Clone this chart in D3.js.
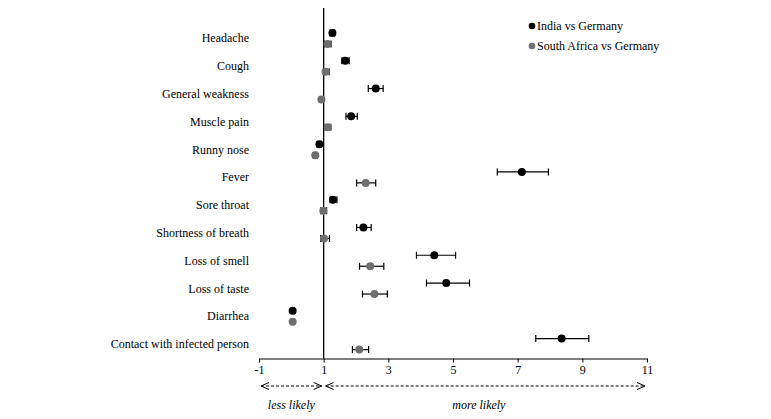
<!DOCTYPE html>
<html><head><meta charset="utf-8">
<script src="https://cdn.jsdelivr.net/npm/d3@7"></script>
<style>body{margin:0;background:#fff}svg{display:block}text{font-family:"Liberation Serif","Times New Roman",serif}</style>
</head><body><svg id="c" width="771" height="419"></svg>
<script>
const categories = ["Headache","Cough","General weakness","Muscle pain","Runny nose","Fever","Sore throat","Shortness of breath","Loss of smell","Loss of taste","Diarrhea","Contact with infected person"];
const seriesNames = ["India vs Germany","South Africa vs Germany"];
const indiaOR  = [1.27,1.67,2.61,1.85,0.87,7.13,1.29,2.23,4.42,4.79,0.04,8.36];
const indiaLo  = [1.20,1.56,2.38,1.69,0.80,6.37,1.20,2.02,3.87,4.18,0.00,7.56];
const indiaHi  = [1.34,1.79,2.84,2.04,0.93,7.95,1.41,2.47,5.08,5.51,0.08,9.20];
const saOR     = [1.12,1.06,0.93,1.13,0.74,2.30,0.99,1.01,2.44,2.57,0.04,2.10];
const saLo     = [1.02,0.99,0.88,1.05,0.68,2.02,0.91,0.91,2.11,2.20,0.00,1.89];
const saHi     = [1.23,1.17,0.99,1.22,0.80,2.61,1.09,1.18,2.86,2.97,0.08,2.39];
const xTicks   = [-1,1,3,5,7,9,11];
const colors   = ["#000000","#6e6e6e"];

const svg = d3.select("#c");
const x = d3.scaleLinear().domain([-1,11]).range([259,647]);
const y = d3.scaleBand().domain(categories).range([24.6,358]).padding(0);
const off = d3.scalePoint().domain(seriesNames).range([-5.5,5.5]);

const seriesData = [
  {name:seriesNames[0], or:indiaOR, lo:indiaLo, hi:indiaHi, color:colors[0]},
  {name:seriesNames[1], or:saOR, lo:saLo, hi:saHi, color:colors[1]}
];

// x axis
const ax = svg.append("g").attr("transform","translate(0,358.5)")
  .call(d3.axisBottom(x).tickValues(xTicks).tickSize(4).tickSizeOuter(0).tickPadding(3).tickFormat(d=>String(d)));
ax.select(".domain").attr("stroke","#000").attr("stroke-width",1.2);
ax.selectAll(".tick line").attr("stroke","#000");
ax.selectAll("text").attr("font-size",12).attr("fill","#000").attr("font-family","Liberation Serif, serif");

// reference line at 1
svg.append("line").attr("x1",x(1)).attr("x2",x(1)).attr("y1",8).attr("y2",358.5)
  .attr("stroke","#000").attr("stroke-width",1.3);

// category labels
svg.append("g").selectAll("text").data(categories).join("text")
  .attr("x",249).attr("y",d=>y(d)+y.bandwidth()/2+4)
  .attr("text-anchor","end").attr("font-size",12).attr("fill","#000").text(d=>d);

// series
seriesData.forEach(s=>{
  const g = svg.append("g");
  const rows = categories.map((c,i)=>({c, v:s.or[i], lo:s.lo[i], hi:s.hi[i], yy:y(c)+y.bandwidth()/2+off(s.name)}));
  g.selectAll("line.h").data(rows).join("line").attr("class","h")
    .attr("x1",d=>x(d.lo)).attr("x2",d=>x(d.hi)).attr("y1",d=>d.yy).attr("y2",d=>d.yy)
    .attr("stroke","#000").attr("stroke-width",1.2);
  g.selectAll("line.l").data(rows).join("line").attr("class","l")
    .attr("x1",d=>x(d.lo)).attr("x2",d=>x(d.lo)).attr("y1",d=>d.yy-3.5).attr("y2",d=>d.yy+3.5)
    .attr("stroke","#000").attr("stroke-width",1.2);
  g.selectAll("line.r").data(rows).join("line").attr("class","r")
    .attr("x1",d=>x(d.hi)).attr("x2",d=>x(d.hi)).attr("y1",d=>d.yy-3.5).attr("y2",d=>d.yy+3.5)
    .attr("stroke","#000").attr("stroke-width",1.2);
  g.selectAll("circle").data(rows).join("circle")
    .attr("cx",d=>x(d.v)).attr("cy",d=>d.yy).attr("r",4).attr("fill",s.color);
});

// legend
const lg = svg.append("g").selectAll("g").data(seriesData).join("g")
  .attr("transform",(d,i)=>`translate(532,${26+i*20})`);
lg.append("circle").attr("r",3.3).attr("fill",d=>d.color);
lg.append("text").attr("x",5).attr("y",4).attr("font-size",12).attr("fill","#000").text(d=>d.name);

// direction arrows
function arrow(a,b){
  const yy=386, x1=x(a)+2, x2=x(b)-2;
  svg.append("line").attr("x1",x1).attr("x2",x2).attr("y1",yy).attr("y2",yy)
    .attr("stroke","#000").attr("stroke-width",1).attr("stroke-dasharray","3,2");
  svg.append("path").attr("d",`M${x1+8},${yy-3.5}L${x1},${yy}L${x1+8},${yy+3.5}`).attr("fill","none").attr("stroke","#000");
  svg.append("path").attr("d",`M${x2-8},${yy-3.5}L${x2},${yy}L${x2-8},${yy+3.5}`).attr("fill","none").attr("stroke","#000");
}
arrow(-1,1); arrow(1,11);
svg.append("text").attr("x",x(0)).attr("y",409).attr("text-anchor","middle").attr("font-size",12).attr("font-style","italic").text("less likely");
svg.append("text").attr("x",x(5.8)).attr("y",409).attr("text-anchor","middle").attr("font-size",12).attr("font-style","italic").text("more likely");
</script></body></html>
